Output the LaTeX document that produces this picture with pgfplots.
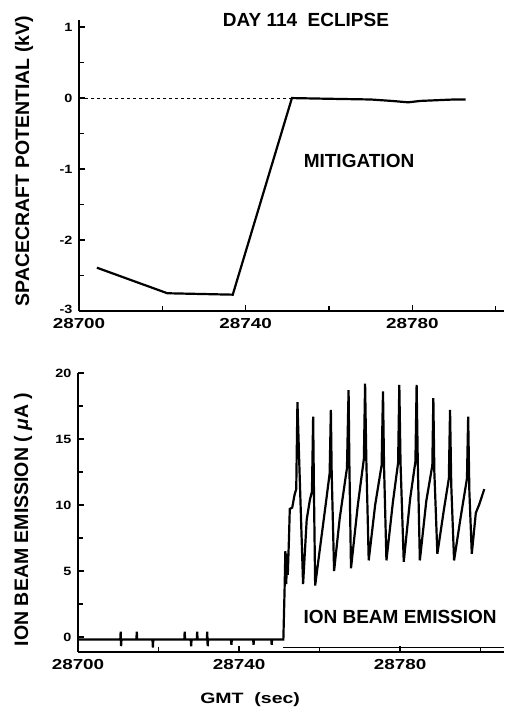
\documentclass[border=0pt]{standalone}
\usepackage{fontspec}
\setmainfont{Liberation Sans}
\newfontfamily\xtickfont[FakeStretch=1.3]{Liberation Sans}
\newfontfamily\ytickfont[FakeStretch=1.2]{Liberation Sans}
\usepackage{pgfplots}
\pgfplotsset{compat=1.18}

\pgfplotsset{
  scanaxis/.style={
    scale only axis, clip=false,
    axis x line*=bottom, axis y line*=left,
    axis line style={line width=2.4pt, -},
    tick style={line width=1.4pt, black},
    major tick length=6pt, minor tick length=5pt,
    tick align=inside,
    scaled x ticks=false,
    /pgf/number format/assume math mode=true,
    /pgf/number format/1000 sep={},
    xticklabel style={font=\xtickfont\bfseries\fontsize{14.5}{15}\selectfont, yshift=-4pt},
    yticklabel style={font=\ytickfont\bfseries\fontsize{12}{12}\selectfont, xshift=-3pt},
    ylabel style={font=\bfseries\fontsize{19.5}{20}\selectfont, anchor=center},
  },
}
\tikzset{lbl/.style={font=\bfseries\fontsize{19}{20}\selectfont}}

\begin{document}
\begin{tikzpicture}
\path[use as bounding box] (0pt,0pt) rectangle (504pt,709pt);

% upper panel: spacecraft potential
\begin{axis}[scanaxis,
    at={(79pt,398pt)}, anchor=south west,
    width=425pt, height=291pt,
    xmin=28700, xmax=28802, ymin=-3, ymax=1.1,
    xtick={28700,28740,28780}, minor xtick={28720,28760,28800},
    xticklabels={28700,28740,28780},
    ytick={-3,-2,-1,0,1}, minor ytick={-2.5,-1.5,-0.5,0.5},
    yticklabels={\raisebox{3pt}{-3},-2,-1,0,1},
    ylabel={SPACECRAFT POTENTIAL (kV)},
    ylabel style={at={(axis description cs:-0.129,0.515)}},
]
\addplot[black, line width=1pt, dashed] coordinates {(28700,0) (28751,0)};
\addplot[black, line width=2.2pt] coordinates {
  (28704.3,-2.39) (28721.2,-2.75) (28729,-2.76) (28736.9,-2.77)
  (28751.1,0) (28760,-0.01) (28770,-0.02) (28775,-0.04) (28779,-0.06)
  (28782,-0.04) (28786,-0.03) (28790,-0.02) (28792.8,-0.02)
};
\node[lbl] at (axis description cs:0.534,1.0) {DAY 114\ \ ECLIPSE};
\node[lbl] at (axis cs:28767.2,-0.89) {MITIGATION};
\end{axis}

% lower panel: ion beam emission
\begin{axis}[scanaxis,
    at={(78pt,57pt)}, anchor=south west,
    width=426pt, height=279pt,
    xmin=28700, xmax=28805.8, ymin=-1.14, ymax=20,
    xtick={28700,28740,28780}, minor xtick={28720,28760,28800},
    xticklabels={28700,28740,28780},
    ytick={0,5,10,15,20}, minor ytick={2.5,7.5,12.5,17.5},
    ylabel={ION BEAM EMISSION ( {\itshape μ}A )},
    ylabel style={at={(axis description cs:-0.129,0.475)}},
]
\addplot[black, line width=0.8pt] coordinates {(28751,-0.8) (28805.8,-0.8)};
\addplot[black, line width=2.2pt] coordinates {
  (28700,-0.2) (28710.5,-0.2) (28710.6,0.4) (28710.7,-0.7) (28710.8,-0.2)
  (28714.5,-0.2) (28714.6,0.4) (28714.7,-0.2)
  (28718.5,-0.2) (28718.6,-0.8) (28718.7,-0.2)
  (28726.4,-0.2) (28726.5,0.4) (28726.6,-0.2)
  (28728,-0.2) (28728.1,-0.7) (28728.2,-0.2)
  (28729.5,-0.2) (28729.6,0.4) (28729.7,-0.2)
  (28732,-0.2) (28732.1,0.4) (28732.2,-0.7) (28732.3,-0.2)
  (28738,-0.2) (28738.1,-0.6) (28738.2,-0.2)
  (28743.5,-0.2) (28743.6,-0.6) (28743.7,-0.2)
  (28748,-0.2) (28748.1,-0.6) (28748.2,-0.2)
  (28751,-0.2)
  (28751.3,3.5) (28751.5,6.5) (28751.7,4.0) (28752.0,6.3) (28752.1,4.7)
  (28752.4,7.5) (28752.6,9.7) (28753.2,9.8) (28753.8,10.8) (28754.2,11.2)
  (28754.5,17.8) (28754.9,13.7) (28755.9,4.0)
  (28756.8,8.9) (28757.6,10.4) (28758.1,11.0) (28758.4,16.7) (28758.6,11.0) (28758.9,3.9)
  (28760,6.5) (28761.5,10) (28762.5,12.4) (28762.8,17.2) (28763.0,12.5) (28763.6,5.0)
  (28765.0,9.0) (28766.8,12.8) (28767.2,18.7) (28767.4,13.0) (28767.8,5.2)
  (28769.5,10) (28771.0,13.5) (28771.3,19.2) (28771.6,13.5) (28772.2,5.8)
  (28773.8,10) (28775.4,13.0) (28775.75,18.6) (28776.0,13.0) (28776.6,5.8)
  (28778.2,10.2) (28779.5,13.2) (28779.8,19.1) (28780.1,13.2) (28780.9,5.7)
  (28782.5,10.5) (28783.8,13.3) (28784.1,19.1) (28784.4,13.0) (28784.9,5.8)
  (28786.5,10.3) (28788.0,13.0) (28788.25,18.1) (28788.5,12.5) (28789.25,6.3)
  (28790.8,9.5) (28792.1,12.0) (28792.4,17.2) (28792.7,11.5) (28793.4,5.8)
  (28795,9) (28796.6,12.0) (28796.9,16.7) (28797.2,11.0) (28797.8,6.3)
  (28798.8,9.4) (28799.6,10.0) (28800.9,11.2)
};
\node[lbl] at (axis cs:28780,1.5) {ION BEAM EMISSION};
\node[font=\xtickfont\bfseries\fontsize{15}{16}\selectfont]
  at (axis description cs:0.404,-0.172) {GMT\ \ (sec)};
\end{axis}
\end{tikzpicture}
\end{document}
